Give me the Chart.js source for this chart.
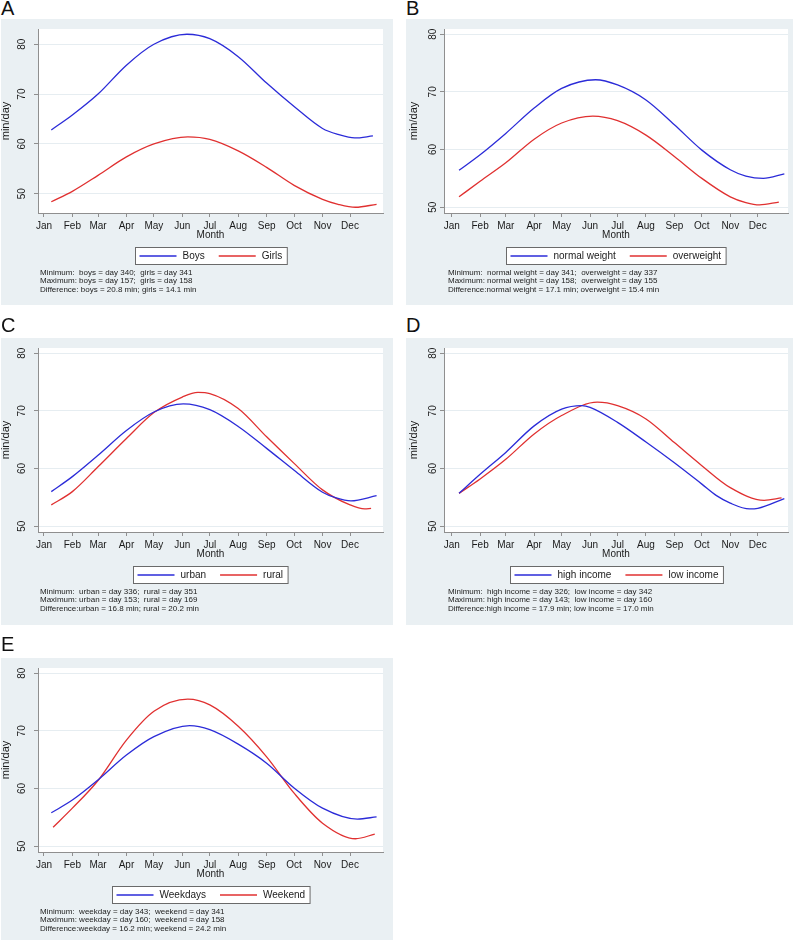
<!DOCTYPE html>
<html>
<head>
<meta charset="utf-8">
<script src="https://cdn.jsdelivr.net/npm/chart.js@4"></script>
<style>
    body { margin: 0; width: 800px; height: 943px; position: relative; overflow: hidden; background: #fff;
           font-family: 'Liberation Sans', Arial, Helvetica, sans-serif; }
    .letra { position: absolute; font-size: 20px; line-height: 20px; color: #111; }
    .painel { position: absolute; background: #eaf0f3; }
    .painel canvas { position: absolute; left: 0; top: 0; }
    .notas { position: absolute; top: 250px; font-size: 8px; line-height: 8.3px; color: #222; white-space: pre; }
</style>
</head>
<body>
<script>
const meses = ['Jan', 'Feb', 'Mar', 'Apr', 'May', 'Jun', 'Jul', 'Aug', 'Sep', 'Oct', 'Nov', 'Dec'];
const diasMes = [1, 32, 60, 91, 121, 152, 182, 213, 244, 274, 305, 335];
const ticksY = [50, 60, 70, 80];

// [day of year, min/day]
const boys = [[9, 62.8], [32, 65.8], [60, 70.0], [91, 75.8], [121, 80.0], [157, 82.0], [182, 81.1], [213, 77.5],
    [244, 72.2], [274, 67.5], [305, 63.1], [322, 61.9], [340, 61.2], [360, 61.6]];
const girls = [[9, 48.4], [32, 50.5], [60, 53.7], [91, 57.4], [121, 60.0], [158, 61.4], [182, 60.9], [213, 58.6],
    [244, 55.3], [274, 51.7], [305, 48.9], [322, 47.9], [341, 47.3], [364, 47.9]];

const normalWeight = [[9, 56.4], [32, 59.1], [60, 62.8], [91, 67.2], [121, 70.6], [158, 72.1], [182, 71.2], [213, 68.6],
    [244, 64.3], [274, 59.9], [305, 56.5], [322, 55.4], [341, 55.0], [364, 55.8]];
const overweight = [[9, 51.8], [32, 54.5], [60, 57.7], [91, 61.8], [121, 64.6], [155, 65.8], [182, 65.0], [213, 62.5],
    [244, 58.8], [274, 55.0], [305, 51.8], [322, 50.8], [337, 50.4], [358, 50.9]];

const urban = [[9, 56.0], [32, 58.6], [60, 62.3], [91, 66.6], [121, 69.8], [153, 71.2], [182, 70.2], [213, 67.3],
    [244, 63.5], [274, 59.7], [305, 55.9], [320, 54.9], [336, 54.4], [364, 55.3]];
const rural = [[9, 53.7], [32, 56.0], [60, 60.3], [91, 65.2], [121, 69.7], [152, 72.4], [169, 73.2], [182, 73.0],
    [213, 70.4], [244, 65.5], [274, 60.9], [305, 56.3], [335, 53.7], [351, 53.0], [358, 53.1]];

const highIncome = [[9, 55.7], [32, 59.0], [60, 62.8], [91, 67.4], [121, 70.3], [143, 70.9], [152, 70.6], [182, 68.0],
    [213, 64.6], [244, 61.0], [274, 57.3], [290, 55.3], [305, 54.0], [326, 53.0], [335, 53.1], [364, 54.8]];
const lowIncome = [[9, 55.7], [32, 58.2], [60, 61.6], [91, 66.0], [121, 69.2], [160, 71.5], [182, 70.9], [213, 68.6],
    [244, 64.5], [274, 60.5], [305, 56.7], [342, 54.5], [361, 54.9]];

const weekdays = [[9, 55.8], [32, 58.0], [60, 61.5], [91, 65.8], [121, 69.0], [160, 70.9], [182, 70.2], [213, 67.7],
    [244, 64.4], [274, 60.1], [305, 56.6], [343, 54.7], [364, 55.1]];
const weekend = [[11, 53.3], [32, 56.6], [60, 61.4], [91, 68.4], [121, 73.4], [158, 75.5], [182, 74.5], [213, 70.8],
    [244, 65.5], [274, 59.2], [305, 54.0], [341, 51.3], [362, 52.1]];

const notasA = ['Minimum:  boys = day 340;  girls = day 341', 'Maximum: boys = day 157;  girls = day 158', 'Difference: boys = 20.8 min; girls = 14.1 min'];
const notasB = ['Minimum:  normal weight = day 341;  overweight = day 337', 'Maximum: normal weight = day 158;  overweight = day 155', 'Difference:normal weight = 17.1 min; overweight = 15.4 min'];
const notasC = ['Minimum:  urban = day 336;  rural = day 351', 'Maximum: urban = day 153;  rural = day 169', 'Difference:urban = 16.8 min; rural = 20.2 min'];
const notasD = ['Minimum:  high income = day 326;  low income = day 342', 'Maximum: high income = day 143;  low income = day 160', 'Difference:high income = 17.9 min; low income = 17.0 min'];
const notasE = ['Minimum:  weekday = day 343;  weekend = day 341', 'Maximum: weekday = day 160;  weekend = day 158', 'Difference:weekday = 16.2 min; weekend = 24.2 min'];

let cores = ['#2b2bd8', '#e03030'];
const cinza = '#8f8f8f';
const fonte = "'Liberation Sans', Arial, Helvetica, sans-serif";

Chart.defaults.font.family = fonte;
Chart.defaults.color = '#1a1a1a';

const colunas = {
    esq: { x: 1, w: 392, eixo: 37, dir: 10, xMin: -5.5, xMax: 371, padTick: 6.4, padTitulo: -1.3, notas: 39 },
    dir: { x: 406, w: 387, eixo: 38, dir: 5, xMin: -7.4, xMax: 368, padTick: 1.4, padTitulo: 1.4, notas: 42 }
};

const paineis = [
    { letra: 'A', col: 'esq', y: 19, h: 286, topoLetra: -2, series: [boys, girls], nomes: ['Boys', 'Girls'], notas: notasA, yMin: 46.15, yMax: 83.05 },
    { letra: 'B', col: 'dir', y: 19, h: 286, topoLetra: -2, series: [normalWeight, overweight], nomes: ['normal weight', 'overweight'], notas: notasB, yMin: 49, yMax: 80.9 },
    { letra: 'C', col: 'esq', y: 338, h: 287, topoLetra: 315, series: [urban, rural], nomes: ['urban', 'rural'], notas: notasC, yMin: 49, yMax: 80.9 },
    { letra: 'D', col: 'dir', y: 338, h: 287, topoLetra: 315, series: [highIncome, lowIncome], nomes: ['high income', 'low income'], notas: notasD, yMin: 49, yMax: 80.9 },
    { letra: 'E', col: 'esq', y: 658, h: 282, topoLetra: 634, series: [weekdays, weekend], nomes: ['Weekdays', 'Weekend'], notas: notasE, yMin: 49, yMax: 80.9 }
];

// white plot region like Stata
const fundoPlot = {
    id: 'fundoPlot',
    beforeDraw: function (chart) {
        const a = chart.chartArea;
        const ctx = chart.ctx;
        ctx.save();
        ctx.fillStyle = '#fff';
        ctx.fillRect(a.left, a.top, a.right - a.left, a.bottom - a.top);
        ctx.restore();
    }
};

// boxed legend centred under the plot region
const legendaCaixa = {
    id: 'legendaCaixa',
    afterDraw: function (chart) {
        const ctx = chart.ctx;
        const a = chart.chartArea;
        const sets = chart.data.datasets;
        ctx.save();
        ctx.font = '10px ' + fonte;
        const larg = sets.map(d => ctx.measureText(d.label).width);
        let total = 4 + 5 + (sets.length - 1) * 14;
        larg.forEach(w => total += 37 + 6 + w);
        const left = Math.round((a.left + a.right) / 2 - total / 2) + 0.5;
        const top = a.bottom + 34 + 0.5;
        const h = 17;
        ctx.fillStyle = '#fff';
        ctx.fillRect(left, top, total, h);
        ctx.strokeStyle = '#6a6a6a';
        ctx.lineWidth = 1;
        ctx.strokeRect(left, top, total, h);
        const meio = top + h / 2;
        let x = left + 4;
        sets.forEach((d, i) => {
            ctx.strokeStyle = d.borderColor;
            ctx.lineWidth = 1.3;
            ctx.beginPath();
            ctx.moveTo(x, meio);
            ctx.lineTo(x + 37, meio);
            ctx.stroke();
            x += 43;
            ctx.fillStyle = '#1a1a1a';
            ctx.textBaseline = 'middle';
            ctx.fillText(d.label, x, meio + 0.5);
            x += larg[i] + 14;
        });
        ctx.restore();
    }
};

function criaGrafico(p) {
    const col = colunas[p.col];

    const letra = document.createElement('div');
    letra.className = 'letra';
    letra.style.left = col.x + 'px';
    letra.style.top = p.topoLetra + 'px';
    letra.textContent = p.letra;
    document.body.appendChild(letra);

    const div = document.createElement('div');
    div.className = 'painel';
    div.style.left = col.x + 'px';
    div.style.top = p.y + 'px';
    div.style.width = col.w + 'px';
    div.style.height = p.h + 'px';
    document.body.appendChild(div);

    const canvas = document.createElement('canvas');
    canvas.width = col.w;
    canvas.height = 250;
    div.appendChild(canvas);

    const notas = document.createElement('div');
    notas.className = 'notas';
    notas.style.left = col.notas + 'px';
    notas.textContent = p.notas.join('\n');
    div.appendChild(notas);

    new Chart(canvas, {
        type: 'line',
        data: {
            datasets: p.series.map((s, i) => ({
                label: p.nomes[i],
                data: s.map(v => ({ x: v[0], y: v[1] })),
                borderColor: cores[i],
                borderWidth: 1.3,
                pointRadius: 0,
                fill: false,
                cubicInterpolationMode: 'monotone'
            }))
        },
        options: {
            responsive: false,
            animation: false,
            devicePixelRatio: 1,
            layout: { padding: { left: 0, right: col.dir, top: 10, bottom: 29 } },
            plugins: { legend: { display: false }, tooltip: { enabled: false } },
            scales: {
                x: {
                    type: 'linear',
                    min: col.xMin,
                    max: col.xMax,
                    afterBuildTicks: s => { s.ticks = diasMes.map(v => ({ value: v })); },
                    afterFit: s => { s.height = 27; s.paddingLeft = 0; s.paddingRight = 0; },
                    ticks: {
                        autoSkip: false, maxRotation: 0, padding: 3, font: { size: 10 },
                        callback: (v, i) => meses[i]
                    },
                    grid: { drawOnChartArea: false, tickLength: 4, tickColor: cinza },
                    border: { color: cinza, width: 1 },
                    title: { display: true, text: 'Month', font: { size: 10, lineHeight: 1 }, padding: 0 }
                },
                y: {
                    type: 'linear',
                    min: p.yMin,
                    max: p.yMax,
                    afterBuildTicks: s => { s.ticks = ticksY.map(v => ({ value: v })); },
                    afterFit: s => { s.width = col.eixo; s.paddingTop = 0; s.paddingBottom = 0; },
                    ticks: { minRotation: 90, maxRotation: 90, crossAlign: 'center', padding: col.padTick, font: { size: 10 } },
                    grid: { color: '#e6edf1', tickLength: 4, tickColor: cinza },
                    border: { color: cinza, width: 1 },
                    title: { display: true, text: 'min/day', font: { size: 11 }, padding: { top: col.padTitulo, bottom: 0 } }
                }
            }
        },
        plugins: [fundoPlot, legendaCaixa]
    });
}

paineis.forEach(criaGrafico);
</script>
</body>
</html>
